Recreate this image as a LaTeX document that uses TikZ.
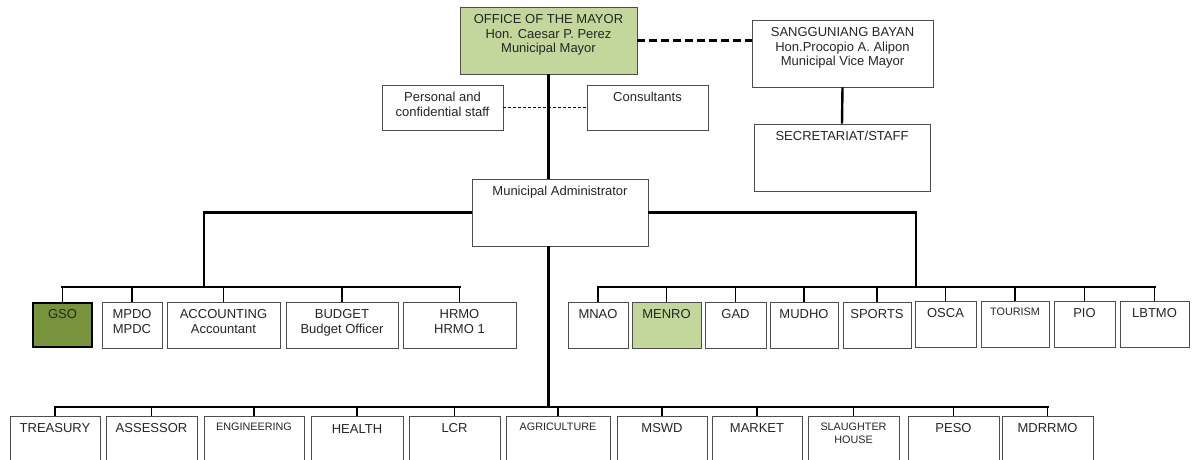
\documentclass[tikz,border=0pt]{standalone}
\usepackage{fontspec}
\setmainfont{Liberation Sans}
\usepackage{tikz}
\usetikzlibrary{positioning}
\definecolor{mayorgreen}{HTML}{C3D69B}
\definecolor{gsogreen}{HTML}{77933C}
\definecolor{boxline}{HTML}{4D4D4D}

\tikzset{
  unit/.style={draw=boxline, line width=0.9pt, fill=white, minimum height=46pt, inner sep=0pt},
  toptext/.style={anchor=north, inner sep=0pt, yshift=-7.5pt, align=center, text=black!85},
  small/.style={font=\fontsize{10.8}{12.8}\selectfont},
  trunk/.style={line width=2.4pt},
  drop/.style={line width=1.6pt, line cap=rect},
}

\begin{document}
\begin{tikzpicture}[x=1pt, y=-1pt, font=\fontsize{13}{14.8}\selectfont]
  \useasboundingbox (0,0) rectangle (1192,459);

  % top level
  \node[unit, fill=mayorgreen, minimum width=177pt, minimum height=67pt,
        label={[toptext]north:{OFFICE OF THE MAYOR\\Hon. Caesar P. Perez\\Municipal Mayor}}] (mayor) at (548.5,40.5) {};
  \node[unit, minimum width=181pt, minimum height=67pt,
        label={[toptext]north:{SANGGUNIANG BAYAN\\Hon.Procopio A. Alipon\\Municipal Vice Mayor}}] (sb) at (842.5,53.5) {};
  \node[unit, minimum width=176pt, minimum height=67pt,
        label={[toptext]north:SECRETARIAT/STAFF}] (sec) at (842,157.5) {};
  \node[unit, minimum width=121pt, minimum height=45pt,
        label={[toptext]north:{Personal and\\confidential staff}}] (staff) at (442.5,107.5) {};
  \node[unit, minimum width=121pt, minimum height=45pt,
        label={[toptext]north:Consultants}] (cons) at (647.5,107.5) {};
  \node[unit, minimum width=176pt, minimum height=67pt,
        label={[toptext]north:Municipal Administrator}] (admin) at (560,212.5) {};

  % middle row, left
  \node[unit, fill=gsogreen, draw=black, line width=2.4pt, minimum width=59pt, minimum height=44pt,
        label={[toptext]north:GSO}] (gso) at (62.5,325) {};
  \node[unit, minimum width=60pt, label={[toptext]north:{MPDO\\MPDC}}] (mpdo) at (132,325) {};
  \node[unit, minimum width=113pt, label={[toptext]north:{ACCOUNTING\\Accountant}}] (acctg) at (223.5,325) {};
  \node[unit, minimum width=112pt, label={[toptext]north:{BUDGET\\Budget Officer}}] (budget) at (342,325) {};
  \node[unit, minimum width=113pt, label={[toptext]north:{HRMO\\HRMO 1}}] (hrmo) at (459.5,325) {};

  % middle row, right
  \node[unit, minimum width=60pt, label={[toptext]north:MNAO}] (mnao) at (598,325) {};
  \node[unit, fill=mayorgreen, minimum width=69pt, label={[toptext]north:MENRO}] (menro) at (666.5,325) {};
  \node[unit, minimum width=61pt, label={[toptext]north:GAD}] (gad) at (735.5,325) {};
  \node[unit, minimum width=68pt, label={[toptext]north:MUDHO}] (mudho) at (804,325) {};
  \node[unit, minimum width=68pt, label={[toptext]north:SPORTS}] (sports) at (877,325) {};
  \node[unit, minimum width=61pt, label={[toptext]north:OSCA}] (osca) at (945.5,324) {};
  \node[unit, minimum width=68pt, label={[toptext,small]north:TOURISM}] (tourism) at (1015,324) {};
  \node[unit, minimum width=61pt, label={[toptext]north:PIO}] (pio) at (1084.5,324) {};
  \node[unit, minimum width=69pt, label={[toptext]north:LBTMO}] (lbtmo) at (1154.5,324) {};

  % bottom row
  \node[unit, minimum width=90pt, minimum height=60pt, label={[toptext]north:TREASURY}] (treasury) at (55,446) {};
  \node[unit, minimum width=91pt, minimum height=60pt, label={[toptext]north:ASSESSOR}] (assessor) at (151.5,446) {};
  \node[unit, minimum width=100pt, minimum height=60pt, label={[toptext,small]north:ENGINEERING}] (engg) at (254,446) {};
  \node[unit, minimum width=92pt, minimum height=60pt, label={[toptext,yshift=-1pt]north:HEALTH}] (health) at (357,446) {};
  \node[unit, minimum width=91pt, minimum height=60pt, label={[toptext]north:LCR}] (lcr) at (454.5,446) {};
  \node[unit, minimum width=104pt, minimum height=60pt, label={[toptext,small]north:AGRICULTURE}] (agri) at (558,446) {};
  \node[unit, minimum width=90pt, minimum height=60pt, label={[toptext]north:MSWD}] (mswd) at (662,446) {};
  \node[unit, minimum width=90pt, minimum height=60pt, label={[toptext]north:MARKET}] (market) at (757,446) {};
  \node[unit, minimum width=91pt, minimum height=60pt, label={[toptext,small]north:{SLAUGHTER\\HOUSE}}] (slaughter) at (853.5,446) {};
  \node[unit, minimum width=91pt, minimum height=60pt, label={[toptext]north:PESO}] (peso) at (953.5,446) {};
  \node[unit, minimum width=91pt, minimum height=60pt, label={[toptext]north:MDRRMO}] (mdrrmo) at (1047.5,446) {};

  % bus points
  \coordinate (lbus) at (204,287);
  \coordinate (rbus) at (916,287);
  \coordinate (lowbus) at (548.5,407);

  % connectors
  \draw[trunk, dash pattern=on 8pt off 4pt] (mayor.east) -- (mayor.east -| sb.west);
  \draw[densely dashed, line width=0.6pt] (staff.east) -- (cons.west);
  \draw[trunk] (sb.south) -- (sec.north);
  \draw[trunk] (mayor.south) -- (mayor.south |- admin.north);
  \draw[trunk] (admin.south -| lowbus) -- (lowbus);
  \draw[trunk] (admin.west) -| (lbus);
  \draw[trunk] (admin.east) -| (rbus);

  \draw[trunk, line cap=rect] (gso.north |- lbus) -- (hrmo.north |- lbus);
  \foreach \n in {gso,mpdo,acctg,budget,hrmo}
    \draw[drop] (\n.north |- lbus) -- (\n.north);

  \draw[trunk, line cap=rect] (mnao.north |- rbus) -- (lbtmo.north |- rbus);
  \foreach \n in {mnao,menro,gad,mudho,sports,osca,tourism,pio,lbtmo}
    \draw[drop] (\n.north |- rbus) -- (\n.north);

  \draw[trunk, line cap=rect] (treasury.north |- lowbus) -- (mdrrmo.north |- lowbus);
  \foreach \n in {treasury,assessor,engg,health,lcr,agri,mswd,market,slaughter,peso,mdrrmo}
    \draw[drop] (\n.north |- lowbus) -- (\n.north);
\end{tikzpicture}
\end{document}
